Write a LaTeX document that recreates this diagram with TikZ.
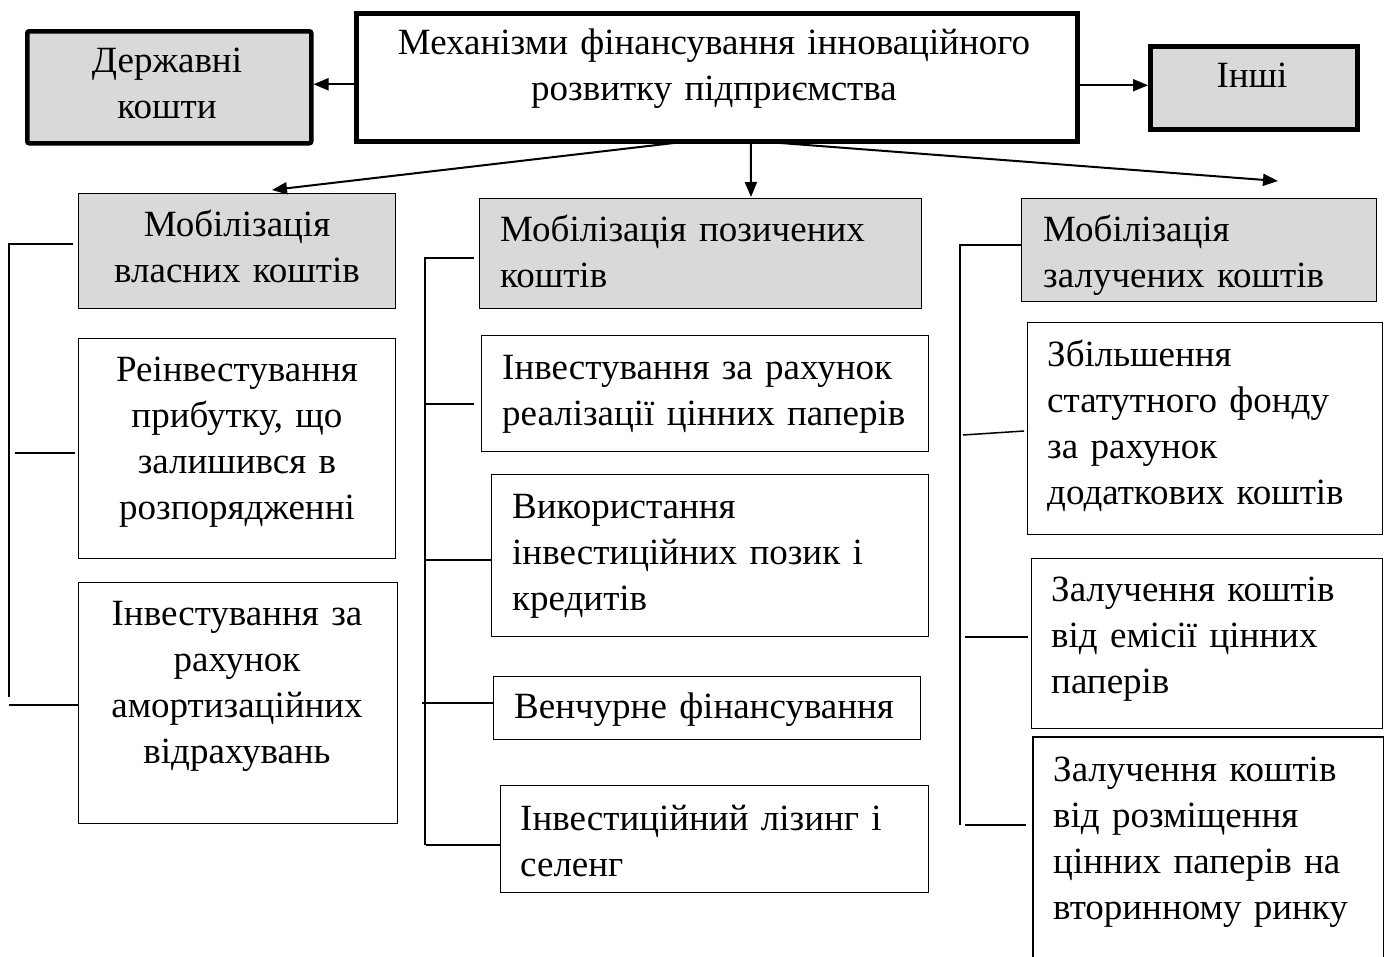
\documentclass[tikz,border=0pt]{standalone}
\usepackage{fontspec}
\setmainfont{Liberation Serif}
\usetikzlibrary{arrows.meta,calc}
\definecolor{boxgray}{RGB}{217,217,217}
\begin{document}
\begin{tikzpicture}[x=1pt,y=-1pt,
  thickbox/.style={draw, line width=4.5pt, inner sep=0pt, anchor=north west},
  thinbox/.style={draw, line width=1.3pt, inner sep=0pt, anchor=north west},
  graybox/.style={fill=boxgray},
  txtc/.style={anchor=base, align=center, inner sep=0pt, font=\fontsize{37}{46}\selectfont},
  txtl/.style={anchor=base west, align=left, inner sep=0pt, text width=600pt, font=\fontsize{37}{46}\selectfont},
  arr/.style={line width=2pt, -{Triangle[length=15pt,width=12pt]}},
  conn/.style={line width=1.5pt}
]
\useasboundingbox (0,0) rectangle (1389,956);

% top row
\node[thickbox, minimum width=721pt, minimum height=128pt] (main) at (354,11) {};
\node[txtc, text width=700pt] (maint) at (714,54) {Механізми фінансування інноваційного\\розвитку підприємства};

\node[thickbox, graybox, rounded corners=2pt, minimum width=284pt, minimum height=112pt] (dk) at (25,29) {};
\node[txtc, text width=280pt] (dkt) at (167,72) {Державні\\кошти};

\node[thickbox, graybox, minimum width=207pt, minimum height=83pt] (inshi) at (1148,44) {};
\node[txtc, text width=200pt] (inshit) at (1252,87) {Інші};

% column headers
\node[thinbox, graybox, minimum width=317pt, minimum height=115pt] (m1) at (78,193) {};
\node[txtc, text width=310pt] (m1t) at (237,236) {Мобілізація\\власних коштів};

\node[thinbox, graybox, minimum width=442pt, minimum height=110pt] (m2) at (479,198) {};
\node[txtl] (m2t) at (500,241) {Мобілізація позичених\\коштів};

\node[thinbox, graybox, minimum width=355pt, minimum height=103pt] (m3) at (1021,198) {};
\node[txtl] (m3t) at (1043,241) {Мобілізація\\залучених коштів};

% left column
\node[thinbox, minimum width=317pt, minimum height=220pt] (a1) at (78,338) {};
\node[txtc, text width=310pt] (a1t) at (237,381) {Реінвестування\\прибутку, що\\залишився в\\розпорядженні};

\node[thinbox, minimum width=319pt, minimum height=241pt] (a2) at (78,582) {};
\node[txtc, text width=310pt] (a2t) at (237,625) {Інвестування за\\рахунок\\амортизаційних\\відрахувань};

% middle column
\node[thinbox, minimum width=447pt, minimum height=116pt] (b1) at (481,335) {};
\node[txtl] (b1t) at (502,379) {Інвестування за рахунок\\реалізації цінних паперів};

\node[thinbox, minimum width=437pt, minimum height=162pt] (b2) at (491,474) {};
\node[txtl] (b2t) at (512,518) {Використання\\інвестиційних позик і\\кредитів};

\node[thinbox, minimum width=427pt, minimum height=63pt] (b3) at (493,676) {};
\node[txtl] (b3t) at (514,718) {Венчурне фінансування};

\node[thinbox, minimum width=428pt, minimum height=107pt] (b4) at (500,785) {};
\node[txtl] (b4t) at (520,830) {Інвестиційний лізинг і\\селенг};

% right column
\node[thinbox, minimum width=355pt, minimum height=212pt] (c1) at (1027,322) {};
\node[txtl] (c1t) at (1047,366) {Збільшення\\статутного фонду\\за рахунок\\додаткових коштів};

\node[thinbox, minimum width=351pt, minimum height=170pt] (c2) at (1031,558) {};
\node[txtl] (c2t) at (1051,601) {Залучення коштів\\від емісії цінних\\паперів};

\node[inner sep=0pt, anchor=north west, minimum width=350pt, minimum height=225pt] (c3) at (1033,737) {};
\draw[line width=1.3pt] (c3.south west) -- (c3.north west) -- (c3.north east) -- (c3.south east);
\node[txtl] (c3t) at (1053,781) {Залучення коштів\\від розміщення\\цінних паперів на\\вторинному ринку};

% arrows from main box
\coordinate (mL) at ([yshift=-7pt]main.west);
\draw[arr] (mL) -- (mL -| dk.east);
\coordinate (mR) at ([yshift=-8pt]main.east);
\draw[arr] (mR) -- (mR -| inshi.west);

\coordinate (t1) at (272,190);
\coordinate (t2) at (751,197);
\coordinate (t3) at (1278,181);
\draw[arr] ([xshift=-30pt,yshift=2pt]main.south) -- (t1);
\draw[arr] ([xshift=34pt,yshift=2pt]main.south) -- (t2);
\draw[arr] ([xshift=44pt,yshift=2pt]main.south) -- (t3);

% left bracket
\coordinate (LT) at (9,244);
\coordinate (LB) at (9,697);
\draw[conn] (LB) -- (LT) -- ([xshift=-5pt]LT -| m1.west);
\coordinate (L2) at (15,453);
\draw[conn] (L2) -- ([xshift=-3pt]L2 -| a1.west);
\coordinate (L3) at (9,705);
\draw[conn] (L3) -- (L3 -| a2.west);

% middle bracket
\coordinate (MT) at (425,258);
\coordinate (MB) at (425,845);
\draw[conn] (MB) -- (MT) -- ([xshift=-5pt]MT -| m2.west);
\coordinate (M2) at (425,404);
\draw[conn] (M2) -- ([xshift=-7pt]M2 -| b1.west);
\coordinate (M3) at (425,560);
\draw[conn] (M3) -- (M3 -| b2.west);
\coordinate (M4) at (422,703);
\draw[conn] (M4) -- (M4 -| b3.west);
\coordinate (M5) at (426,845);
\draw[conn] (M5) -- (M5 -| b4.west);

% right bracket
\coordinate (RT) at (960,245);
\coordinate (RB) at (960,825);
\draw[conn] (RB) -- (RT) -- (RT -| m3.west);
\coordinate (R2) at (963,435);
\draw[conn] (R2) -- ([xshift=-3pt,yshift=4pt]R2 -| c1.west);
\coordinate (R3) at (965,637);
\draw[conn] (R3) -- ([xshift=-3pt]R3 -| c2.west);
\coordinate (R4) at (965,825);
\draw[conn] (R4) -- ([xshift=-7pt]R4 -| c3.west);
\end{tikzpicture}
\end{document}
